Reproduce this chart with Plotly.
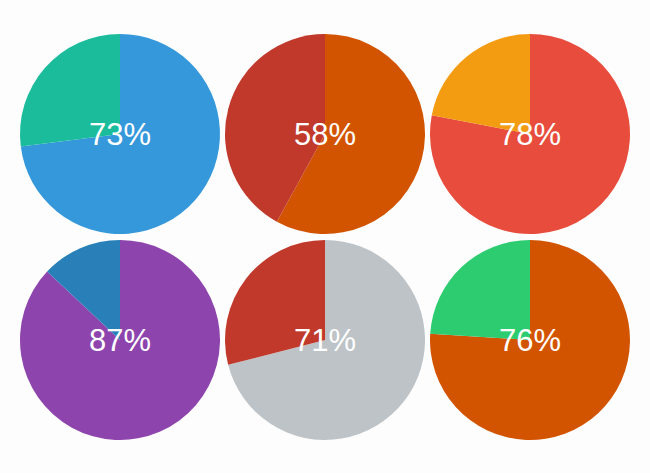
import plotly.graph_objects as go

labels = ["value", "rest"]
values = [73, 58, 78, 87, 71, 76]
main_colors = ["#3498db", "#d35400", "#e74c3c", "#8e44ad", "#bdc3c7", "#d35400"]
rest_colors = ["#1abc9c", "#c0392b", "#f39c12", "#2980b9", "#c0392b", "#2ecc71"]

W, H = 650, 473
ml, mr, mt, mb = 20, 20, 34, 33
pw, ph = W - ml - mr, H - mt - mb
size, gx, gy = 200, 5, 6

fig = go.Figure()
annotations = []
for i, v in enumerate(values):
    r, c = divmod(i, 3)
    x0 = c * (size + gx) / pw
    x1 = (c * (size + gx) + size) / pw
    y1 = 1 - r * (size + gy) / ph
    y0 = 1 - (r * (size + gy) + size) / ph
    fig.add_trace(go.Pie(
        labels=labels, values=[v, 100 - v], sort=False, direction="clockwise",
        rotation=0, textinfo="none", hoverinfo="skip",
        marker=dict(colors=[main_colors[i], rest_colors[i]], line=dict(width=0)),
        domain=dict(x=[x0, min(x1, 1)], y=[max(y0, 0), y1]), showlegend=False,
    ))
    annotations.append(dict(
        x=(x0 + x1) / 2, y=(y0 + y1) / 2, xref="paper", yref="paper",
        text=f"{v}%", showarrow=False, xanchor="center", yanchor="middle",
        font=dict(family="Liberation Sans, Arial, sans-serif", size=31, color="white"),
    ))

fig.update_layout(
    width=W, height=H, margin=dict(l=ml, r=mr, t=mt, b=mb),
    paper_bgcolor="#fdfdfd", plot_bgcolor="#fdfdfd",
    annotations=annotations,
)
fig.write_html(
    "out.html",
    config={"displayModeBar": False},
    post_script="document.body.style.margin='0';document.body.style.background='#fdfdfd';",
)
